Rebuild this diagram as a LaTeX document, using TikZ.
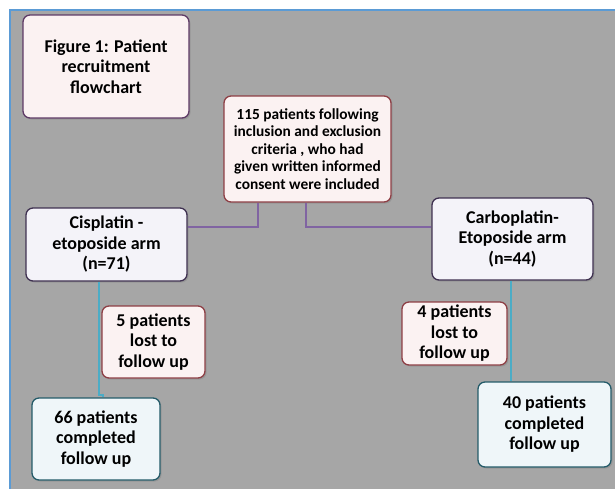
\documentclass[tikz,border=0pt]{standalone}
\usepackage{fontspec}
\setmainfont{Carlito}
\usetikzlibrary{shadows}

\definecolor{bggray}{HTML}{A6A6A6}
\definecolor{frameblue}{HTML}{5B9BD5}
\definecolor{notefill}{HTML}{FBF2F2}
\definecolor{noteline}{HTML}{8E3F45}
\definecolor{titleline}{HTML}{5E3A66}
\definecolor{armfill}{HTML}{F4F3F9}
\definecolor{armline}{HTML}{3F3151}
\definecolor{donefill}{HTML}{EFF6F9}
\definecolor{doneline}{HTML}{245B69}
\definecolor{linkpurple}{HTML}{8064A2}
\definecolor{linkcyan}{HTML}{4BACC6}

\begin{document}
\begin{tikzpicture}[x=1pt, y=-1pt,
  box/.style={draw, rounded corners=7pt, line width=1.3pt, align=center, inner sep=2pt,
    font=\bfseries\fontsize{18}{20.5}\selectfont,
    drop shadow={shadow xshift=1.5pt, shadow yshift=-1.5pt, opacity=0.4}},
  note/.style={box, fill=notefill, draw=noteline},
  arm/.style={box, fill=armfill, draw=armline},
  done/.style={box, fill=donefill, draw=doneline},
  armlink/.style={draw=linkpurple, line width=1.6pt},
  followlink/.style={draw=linkcyan, line width=2pt}]
  \useasboundingbox (0,0) rectangle (615,488);
  % backdrop
  \fill[bggray] (10,9.5) rectangle (616,489);
  \draw[frameblue, line width=2pt] (10,489) -- (10,9.5) -- (616,9.5);
  \coordinate (jrow) at (0,227);

  \node[note, draw=titleline, minimum width=166pt, minimum height=103pt] (fig) at (106,66.5)
    {Figure 1: Patient\\recruitment\\flowchart};
  \node[note, font=\bfseries\fontsize{15.4}{17.5}\selectfont, minimum width=167pt, minimum height=106pt] (incl) at (307.5,149)
    {115 patients following\\inclusion and exclusion\\criteria , who had\\given written informed\\consent were included};
  \node[arm, minimum width=161pt, minimum height=73pt] (cis) at (106.5,244.5)
    {Cisplatin -\\etoposide arm\\(n=71)};
  \node[arm, minimum width=161pt, minimum height=82pt] (carbo) at (512.5,239)
    {Carboplatin-\\Etoposide arm\\(n=44)};
  \node[note, minimum width=103pt, minimum height=72pt] (lost1) at (153.5,342)
    {5 patients\\lost to\\follow up};
  \node[note, minimum width=105pt, minimum height=63pt, inner sep=1pt] (lost2) at (454.5,333.5)
    {4 patients\\lost to\\follow up};
  \node[done, minimum width=128pt, minimum height=82pt] (done1) at (96,439)
    {66 patients\\completed\\follow up};
  \node[done, minimum width=133pt, minimum height=85pt] (done2) at (544.5,424.5)
    {40 patients\\completed\\follow up};

  % arms
  \draw[armlink] ([xshift=-49.5pt]incl.south) |- (cis.east |- jrow);
  \draw[armlink] ([xshift=-1.5pt]incl.south) |- (carbo.west |- jrow);
  % follow up
  \draw[followlink] ([xshift=-7.5pt]cis.south) -- ++(0,113) -| ([xshift=7pt]done1.north);
  \draw[followlink] ([xshift=-1.5pt]carbo.south) -- ([xshift=-1.5pt]carbo.south |- done2.north);
\end{tikzpicture}
\end{document}
